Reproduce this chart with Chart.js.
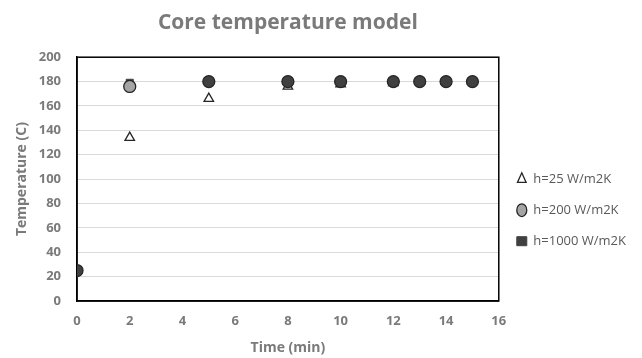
<!DOCTYPE html>
<html><head><meta charset="utf-8">
<script src="https://cdn.jsdelivr.net/npm/chart.js@4/dist/chart.umd.min.js"></script>
<style>html,body{margin:0;padding:0;background:#fff}#wrap{width:642px;height:358px}</style>
</head><body><div id="wrap"><canvas id="c" width="642" height="358"></canvas></div>
<script>
const times = [0, 2, 5, 8, 10, 12, 13, 14, 15];
const h25 = [25, 134, 166, 176, 178, 179, 180, 180, 180];
const h200 = [25, 176, 180, 180, 180, 180, 180, 180, 180];
const h1000 = [25, 179, 180, 180, 180, 180, 180, 180, 180];
const seriesNames = ['h=25 W/m2K', 'h=200 W/m2K', 'h=1000 W/m2K'];
const yTicks = [0, 20, 40, 60, 80, 100, 120, 140, 160, 180, 200];
const xTicks = [0, 2, 4, 6, 8, 10, 12, 14, 16];

const pts = (ys) => times.map((t, i) => ({x: t, y: ys[i]}));
const FONT = '"Open Sans", Lato, sans-serif';
const GRAY = '#7a7a7a';
const legendFill = ['#ffffff', '#a5a5a5', '#404040'];

// circle drawn over the square: where the square sits right under it, it reads dark
const circleFill = (ctx) => {
  const i = ctx.dataIndex;
  if (i === undefined) return legendFill[1];
  return Math.abs(h1000[i] - h200[i]) < 2 ? '#404040' : '#a5a5a5';
};

const borderPlugin = {
  id: 'plotBorder',
  beforeDatasetsDraw(chart) {
    const a = chart.chartArea, ctx = chart.ctx;
    ctx.save();
    ctx.strokeStyle = '#000';
    ctx.lineWidth = 1.5;
    ctx.strokeRect(a.left, a.top, a.right - a.left, a.bottom - a.top);
    ctx.restore();
  }
};

new Chart(document.getElementById('c'), {
  type: 'scatter',
  data: {
    datasets: [
      {label: seriesNames[0], data: pts(h25), pointStyle: 'triangle', pointRadius: 5.5,
       backgroundColor: '#ffffff', borderColor: '#262626', borderWidth: 1.3, order: 3},
      {label: seriesNames[1], data: pts(h200), pointStyle: 'circle', pointRadius: 6,
       backgroundColor: circleFill, borderColor: '#262626', borderWidth: 1.3, order: 1},
      {label: seriesNames[2], data: pts(h1000), pointStyle: 'rect', pointRadius: 5,
       backgroundColor: '#404040', borderColor: '#404040', borderWidth: 1, order: 2}
    ]
  },
  options: {
    responsive: false,
    animation: false,
    layout: {padding: {left: 0, right: 6, top: 10, bottom: 0}},
    plugins: {
      title: {display: true, fullSize: false, text: 'Core temperature model', color: GRAY,
              font: {family: FONT, size: 21, weight: 'bold'}, padding: {top: 0, bottom: 22}},
      legend: {position: 'right', align: 'center',
               title: {display: true, text: '', padding: {top: 0, bottom: 38}, font: {size: 12}},
               labels: {usePointStyle: true, color: '#595959', pointStyleWidth: 10,
                        boxHeight: 9, padding: 18, font: {family: FONT, size: 13},
                        sort: (a, b) => a.datasetIndex - b.datasetIndex,
                        generateLabels: (chart) => {
                          const items = Chart.defaults.plugins.legend.labels.generateLabels(chart);
                          items.forEach(it => { it.fillStyle = legendFill[it.datasetIndex]; });
                          return items;
                        }}},
      tooltip: {enabled: false}
    },
    scales: {
      x: {type: 'linear', min: 0, max: 16,
          afterBuildTicks: (ax) => { ax.ticks = xTicks.map(v => ({value: v})); },
          afterFit: (ax) => { ax.height = 57; },
          grid: {display: false, drawTicks: false},
          border: {display: true, color: '#000', width: 1.5},
          ticks: {color: GRAY, padding: 12, font: {family: FONT, size: 13, weight: 'bold'}},
          title: {display: true, text: 'Time (min)', color: GRAY,
                  font: {family: FONT, size: 14, weight: 'bold'}, padding: {top: 0, bottom: 2}}},
      y: {type: 'linear', min: 0, max: 200,
          afterBuildTicks: (ax) => { ax.ticks = yTicks.map(v => ({value: v})); },
          afterFit: (ax) => { ax.width = 77; },
          grid: {color: '#d9d9d9', drawTicks: false, lineWidth: 1},
          border: {display: true, color: '#000', width: 1.5},
          ticks: {color: GRAY, padding: 16, font: {family: FONT, size: 13, weight: 'bold'}},
          title: {display: true, text: 'Temperature (C)', color: GRAY,
                  font: {family: FONT, size: 14, weight: 'bold'}, padding: {top: 14, bottom: 0}}}
    }
  },
  plugins: [borderPlugin]
});
</script>
</body></html>
